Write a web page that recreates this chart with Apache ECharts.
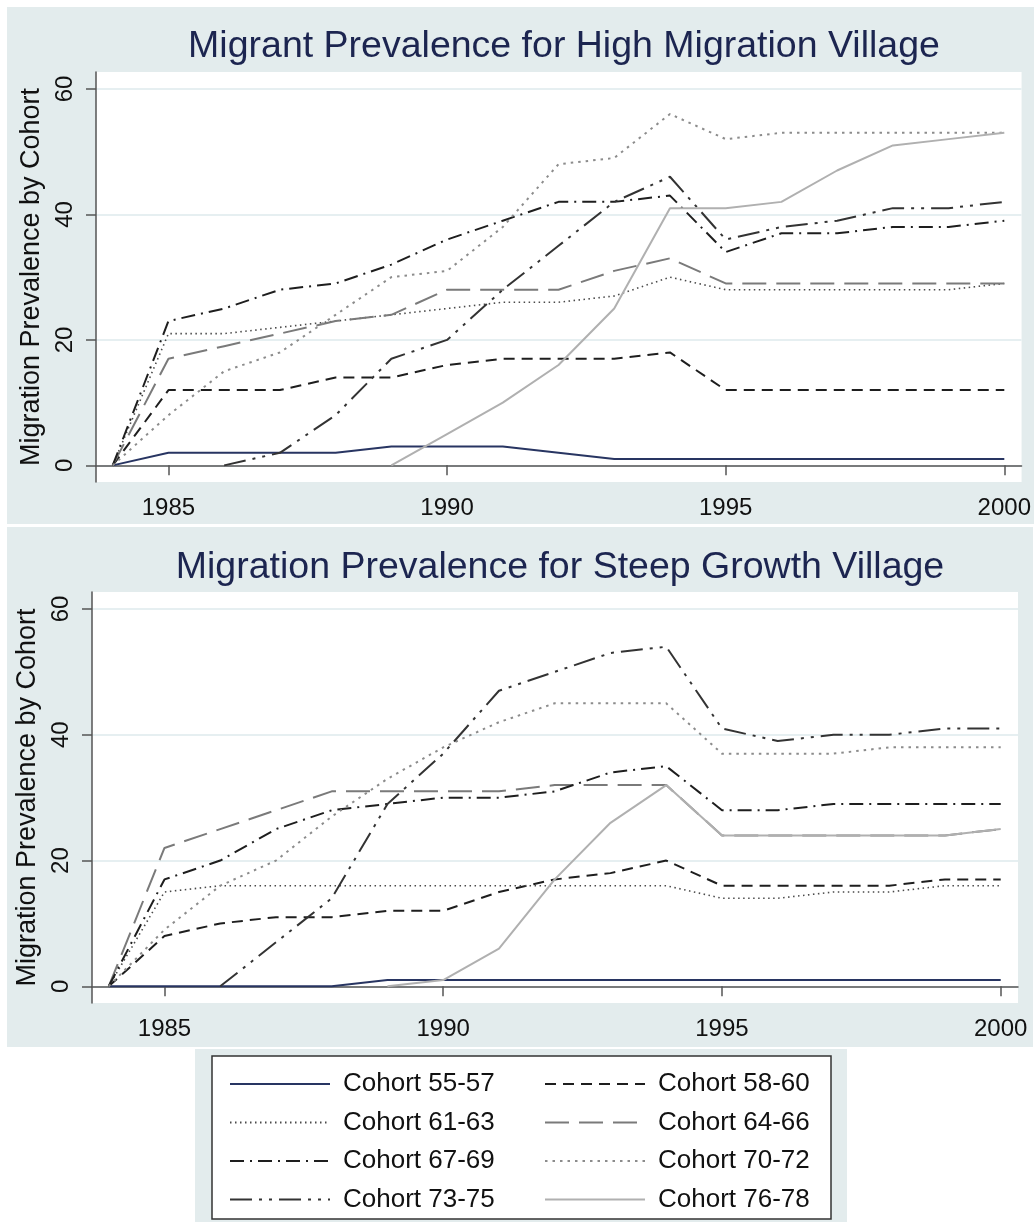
<!DOCTYPE html>
<html>
<head>
<meta charset="utf-8">
<script src="https://cdn.jsdelivr.net/npm/echarts@6/dist/echarts.min.js"></script>
<style>
html,body{margin:0;padding:0;background:#fff;}
#chart{width:1034px;height:1222px;}
</style>
</head>
<body>
<div id="chart"></div>
<script>
// ---- data ----
const years = [1984,1985,1986,1987,1988,1989,1990,1991,1992,1993,1994,1995,1996,1997,1998,1999,2000];
const cohortNames = ['Cohort 55-57','Cohort 58-60','Cohort 61-63','Cohort 64-66','Cohort 67-69','Cohort 70-72','Cohort 73-75','Cohort 76-78'];
const xTicks = [1985, 1990, 1995, 2000];
const yTicks = [0, 20, 40, 60];
const titleTop = 'Migrant Prevalence for High Migration Village';
const titleBottom = 'Migration Prevalence for Steep Growth Village';
const yName = 'Migration Prevalence by Cohort';

// High migration village
const high5557 = [0,2,2,2,2,3,3,3,2,1,1,1,1,1,1,1,1];
const high5860 = [0,12,12,12,14,14,16,17,17,17,18,12,12,12,12,12,12];
const high6163 = [0,21,21,22,23,24,25,26,26,27,30,28,28,28,28,28,29];
const high6466 = [0,17,19,21,23,24,28,28,28,31,33,29,29,29,29,29,29];
const high6769 = [0,23,25,28,29,32,36,39,42,42,43,34,37,37,38,38,39];
const high7072 = [0,8,15,18,24,30,31,38,48,49,56,52,53,53,53,53,53];
const high7375 = [null,null,0,2,8,17,20,28,35,42,46,36,38,39,41,41,42];
const high7678 = [null,null,null,null,null,0,5,10,16,25,41,41,42,47,51,52,53];

// Steep growth village
const steep5557 = [0,0,0,0,0,1,1,1,1,1,1,1,1,1,1,1,1];
const steep5860 = [0,8,10,11,11,12,12,15,17,18,20,16,16,16,16,17,17];
const steep6163 = [0,15,16,16,16,16,16,16,16,16,16,14,14,15,15,16,16];
const steep6466 = [0,22,25,28,31,31,31,31,32,32,32,24,24,24,24,24,25];
const steep6769 = [0,17,20,25,28,29,30,30,31,34,35,28,28,29,29,29,29];
const steep7072 = [0,9,16,20,27,33,38,42,45,45,45,37,37,37,38,38,38];
const steep7375 = [null,null,0,7,14,29,37,47,50,53,54,41,39,40,40,41,41];
const steep7678 = [null,null,null,null,null,0,1,6,17,26,32,24,24,24,24,24,25];

const highData = [high5557,high5860,high6163,high6466,high6769,high7072,high7375,high7678];
const steepData = [steep5557,steep5860,steep6163,steep6466,steep6769,steep7072,steep7375,steep7678];

// ---- styles ----
const lineStyles = [
  {color:'#283562', width:2, type:'solid'},
  {color:'#1e1e1e', width:2, type:[11,7]},
  {color:'#4a4a4a', width:1.6, type:[1.5,3.5]},
  {color:'#7a7a7a', width:2, type:[24,10]},
  {color:'#1e1e1e', width:2, type:[14,6,2,6]},
  {color:'#8c8c8c', width:2, type:[2.5,5]},
  {color:'#333333', width:2, type:[22,7,3,7,3,7]},
  {color:'#b0b0b0', width:2, type:'solid'}
];

const BG = '#e3eced';
const GRID = '#e6eff1';
const AX = '#555555';
const FONT = '"Liberation Sans", Arial, Helvetica, sans-serif';

function toPairs(arr){
  const out = [];
  arr.forEach((v,i)=>{ if(v!==null) out.push([years[i], v]); });
  return out;
}

const grids = [
  {left:96, right:12, top:72, height:410},
  {left:92, right:16, top:592, height:411}
];

function xAxis(i){
  return {
    type:'value', gridIndex:i, min:1983.7, max:2000.31,
    axisLine:{show:true, lineStyle:{color:AX, width:1.5}},
    axisTick:{show:true, length:10, lineStyle:{color:AX, width:1.5}, customValues:xTicks},
    axisLabel:{show:true, customValues:xTicks, formatter:v=>String(v), color:'#111', fontSize:24, fontFamily:FONT, margin:14},
    splitLine:{show:false}
  };
}
function yAxis(i){
  return {
    type:'value', gridIndex:i, min:-2.65, max:62.7,
    name:yName, nameLocation:'middle', nameGap:45,
    nameTextStyle:{color:'#111', fontSize:27, fontFamily:FONT},
    axisLine:{show:true, lineStyle:{color:AX, width:1.5}},
    axisTick:{show:true, length:10, lineStyle:{color:AX, width:1.5}, customValues:yTicks},
    axisLabel:{show:true, customValues:yTicks, formatter:v=>String(v), rotate:90, color:'#111', fontSize:24, fontFamily:FONT, margin:19},
    splitLine:{show:true, lineStyle:{color:GRID, width:2}}
  };
}

const series = [];
[highData, steepData].forEach((set, gi)=>{
  set.forEach((arr, k)=>{
    series.push({
      name:cohortNames[k], type:'line', xAxisIndex:gi, yAxisIndex:gi,
      data:toPairs(arr), symbol:'none', showSymbol:false, animation:false,
      lineStyle:Object.assign({}, lineStyles[k]),
      itemStyle:{color:lineStyles[k].color},
      emphasis:{disabled:true}
    });
  });
});

const legendCommon = {
  orient:'vertical', itemWidth:100, itemHeight:14, itemGap:12.5,
  itemStyle:{opacity:0},
  textStyle:{color:'#111', fontSize:26, fontFamily:FONT, padding:[0,0,0,8]},
  selectedMode:false
};

const option = {
  backgroundColor:'#fff',
  animation:false,
  graphic:[
    {type:'rect', z:-10, shape:{x:7, y:7, width:1027, height:517}, style:{fill:BG}},
    {type:'rect', z:-10, shape:{x:7, y:527, width:1026, height:520}, style:{fill:BG}},
    {type:'rect', z:-10, shape:{x:195, y:1049, width:652, height:173}, style:{fill:BG}},
    {type:'rect', z:-9, shape:{x:212, y:1056, width:619, height:163}, style:{fill:'#fff', stroke:'#333', lineWidth:1.5}}
  ],
  title:[
    {text:titleTop, left:559, top:23, textAlign:'center', textStyle:{color:'#1c2550', fontSize:37.5, fontWeight:'normal', fontFamily:FONT}},
    {text:titleBottom, left:555, top:544, textAlign:'center', textStyle:{color:'#1c2550', fontSize:37.5, fontWeight:'normal', fontFamily:FONT}}
  ],
  grid:grids.map(g=>Object.assign({show:true, backgroundColor:'#fff', borderWidth:0}, g)),
  xAxis:[xAxis(0), xAxis(1)],
  yAxis:[yAxis(0), yAxis(1)],
  legend:[
    Object.assign({}, legendCommon, {left:224, top:1066, data:[cohortNames[0],cohortNames[2],cohortNames[4],cohortNames[6]]}),
    Object.assign({}, legendCommon, {left:539, top:1066, data:[cohortNames[1],cohortNames[3],cohortNames[5],cohortNames[7]]})
  ],
  series:series
};

const chart = echarts.init(document.getElementById('chart'), null, {renderer:'canvas'});
chart.setOption(option);
</script>
</body>
</html>
